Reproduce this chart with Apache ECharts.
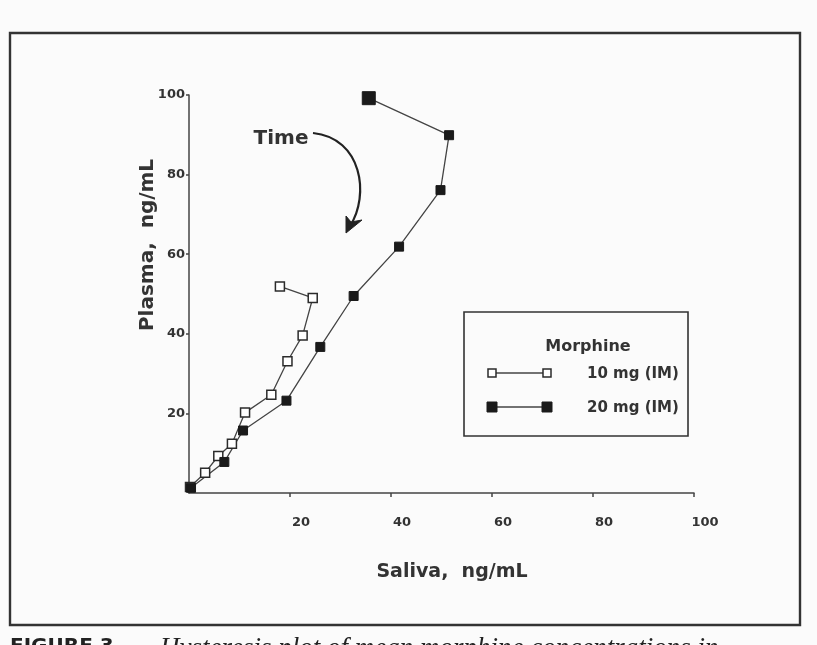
<!DOCTYPE html>
<html>
<head>
<meta charset="utf-8">
<title>Morphine hysteresis</title>
<script src="https://cdn.jsdelivr.net/npm/echarts@6/dist/echarts.min.js"></script>
<style>
  html, body { margin: 0; padding: 0; background: #fbfbfb; }
  #chart { width: 817px; height: 645px; }
</style>
</head>
<body>
<div id="chart"></div>
<script>
// 唾液 / 血浆 浓度 (ng/mL)，按时间顺序
const saliva10 = [18.0, 24.5, 22.5, 19.5, 16.3, 11.1, 8.5, 5.8, 3.2, 0.2];
const plasma10 = [51.9, 49.0, 39.6, 33.1, 24.7, 20.2, 12.4, 9.3, 5.1, 1.5];
const saliva20 = [35.6, 51.5, 49.8, 41.6, 32.6, 26.0, 19.3, 10.7, 7.0, 0.4];
const plasma20 = [99.2, 89.9, 76.1, 61.9, 49.5, 36.7, 23.2, 15.7, 7.8, 1.3];
const axisTicks = [0, 20, 40, 60, 80, 100];
const seriesNames = ['10 mg (IM)', '20 mg (IM)'];

const FONT = '"DejaVu Sans", sans-serif';
const INK = '#2b2b2b';
const TEXT = '#333';

function pairs(xs, ys) {
  return xs.map((x, i) => [x, ys[i]]);
}

const chart = echarts.init(document.getElementById('chart'));

chart.setOption({
  backgroundColor: '#fbfbfb',
  animation: false,
  grid: { left: 189, right: 123, top: 95, bottom: 152 },
  xAxis: {
    type: 'value',
    min: axisTicks[0],
    max: axisTicks[axisTicks.length - 1],
    interval: axisTicks[1] - axisTicks[0],
    splitLine: { show: false },
    axisLine: { lineStyle: { color: '#444', width: 1.5 } },
    axisTick: { length: 4, lineStyle: { color: '#444', width: 1.5 } },
    axisLabel: {
      showMinLabel: false,
      margin: 23,
      padding: [0, 0, 0, 22],
      color: TEXT,
      fontFamily: FONT,
      fontWeight: 'bold',
      fontSize: 13
    }
  },
  yAxis: {
    type: 'value',
    min: axisTicks[0],
    max: axisTicks[axisTicks.length - 1],
    interval: axisTicks[1] - axisTicks[0],
    splitLine: { show: false },
    axisLine: { lineStyle: { color: '#444', width: 1.5 } },
    axisTick: { length: 3, lineStyle: { color: '#444', width: 1.5 } },
    axisLabel: {
      showMinLabel: false,
      margin: 4,
      padding: [9, 0, 0, 0],
      color: TEXT,
      fontFamily: FONT,
      fontWeight: 'bold',
      fontSize: 13
    }
  },
  series: [
    {
      name: seriesNames[0],
      type: 'line',
      data: pairs(saliva10, plasma10),
      symbol: 'rect',
      symbolSize: 9,
      itemStyle: { color: '#fff', borderColor: INK, borderWidth: 1.5 },
      lineStyle: { color: '#444', width: 1.3 }
    },
    {
      name: seriesNames[1],
      type: 'line',
      data: pairs(saliva20, plasma20),
      symbol: 'rect',
      symbolSize: (val, params) => (params.dataIndex === 0 ? 13 : 9),
      itemStyle: { color: '#1a1a1a', borderColor: '#1a1a1a', borderWidth: 1 },
      lineStyle: { color: '#444', width: 1.3 },
      z: 3
    }
  ],
  graphic: [
    // 外框
    {
      type: 'rect', shape: { x: 10, y: 33, width: 790, height: 592 },
      style: { fill: 'none', stroke: '#333', lineWidth: 2.4 }
    },
    // 坐标轴名称
    {
      type: 'text', x: 452, y: 572,
      style: { text: 'Saliva,  ng/mL', fill: TEXT, font: 'bold 19px ' + FONT,
               align: 'center', verticalAlign: 'middle' }
    },
    {
      type: 'text', x: 148, y: 245, rotation: Math.PI / 2,
      style: { text: 'Plasma,  ng/mL', fill: TEXT, font: 'bold 20px ' + FONT,
               align: 'center', verticalAlign: 'middle' }
    },
    // 时间箭头
    {
      type: 'text', x: 281, y: 139,
      style: { text: 'Time', fill: TEXT, font: 'bold 20px ' + FONT,
               align: 'center', verticalAlign: 'middle' }
    },
    {
      type: 'bezierCurve',
      shape: { x1: 313, y1: 133, cpx1: 362, cpy1: 138, cpx2: 370, cpy2: 195, x2: 350, y2: 226 },
      style: { fill: 'none', stroke: '#222', lineWidth: 2.2 }
    },
    {
      type: 'polygon',
      shape: { points: [[346, 233], [346, 216], [351, 222], [362, 220]] },
      style: { fill: '#222', stroke: '#222', lineWidth: 1 }
    },
    // 图例
    {
      type: 'rect', shape: { x: 464, y: 312, width: 224, height: 124 },
      style: { fill: '#fbfbfb', stroke: '#333', lineWidth: 1.6 }
    },
    {
      type: 'text', x: 588, y: 347,
      style: { text: 'Morphine', fill: TEXT, font: 'bold 16px ' + FONT,
               align: 'center', verticalAlign: 'middle' }
    },
    {
      type: 'line', shape: { x1: 493, y1: 373, x2: 546, y2: 373 },
      style: { stroke: '#444', lineWidth: 1.3 }
    },
    {
      type: 'rect', shape: { x: 488, y: 369, width: 8, height: 8 },
      style: { fill: '#fff', stroke: INK, lineWidth: 1.5 }
    },
    {
      type: 'rect', shape: { x: 543, y: 369, width: 8, height: 8 },
      style: { fill: '#fff', stroke: INK, lineWidth: 1.5 }
    },
    {
      type: 'text', x: 587, y: 374,
      style: { text: seriesNames[0], fill: TEXT, font: 'bold 15px ' + FONT,
               verticalAlign: 'middle' }
    },
    {
      type: 'line', shape: { x1: 493, y1: 407, x2: 546, y2: 407 },
      style: { stroke: '#444', lineWidth: 1.3 }
    },
    {
      type: 'rect', shape: { x: 487, y: 402, width: 10, height: 10 },
      style: { fill: '#1a1a1a', stroke: '#1a1a1a', lineWidth: 1 }
    },
    {
      type: 'rect', shape: { x: 542, y: 402, width: 10, height: 10 },
      style: { fill: '#1a1a1a', stroke: '#1a1a1a', lineWidth: 1 }
    },
    {
      type: 'text', x: 587, y: 408,
      style: { text: seriesNames[1], fill: TEXT, font: 'bold 15px ' + FONT,
               verticalAlign: 'middle' }
    },
    // 截断的图注
    {
      type: 'text', x: 10, y: 637,
      style: { text: 'FIGURE 3.', fill: '#222', font: 'bold 20px ' + FONT }
    },
    {
      type: 'text', x: 160, y: 635,
      style: { text: 'Hysteresis plot of mean morphine concentrations in',
               fill: '#222', font: 'italic 27px "Liberation Serif", serif' }
    }
  ]
});
</script>
</body>
</html>
